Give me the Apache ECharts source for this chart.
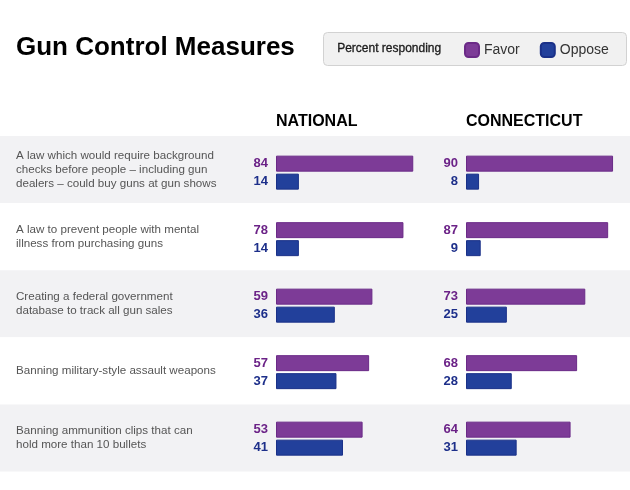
<!DOCTYPE html>
<html>
<head>
<meta charset="utf-8">
<script src="https://cdn.jsdelivr.net/npm/echarts@6/dist/echarts.min.js"></script>
<style>
 html, body { margin: 0; padding: 0; background: #fff; }
 #main { width: 630px; height: 490px; }
</style>
</head>
<body>
<div id="main"></div>
<script>
 var rows = [
     'A law which would require background\nchecks before people \u2013 including gun\ndealers \u2013 could buy guns at gun shows',
     'A law to prevent people with mental\nillness from purchasing guns',
     'Creating a federal government\ndatabase to track all gun sales',
     'Banning military-style assault weapons',
     'Banning ammunition clips that can\nhold more than 10 bullets'
 ];
 var natFavor = [84, 78, 59, 57, 53];
 var natOppose = [14, 14, 36, 37, 41];
 var ctFavor = [90, 87, 73, 68, 64];
 var ctOppose = [8, 9, 25, 28, 31];

 var FONT = '"Liberation Sans", Arial, sans-serif';
 var favorColor = '#7d3b97';
 var opposeColor = '#22409b';

 var chart = echarts.init(document.getElementById('main'));

 // one bar series, value label on the left of the bar
 function barSeries(name, data, idx, fill, border, labelColor) {
     return {
         name: name,
         type: 'bar',
         xAxisIndex: idx,
         yAxisIndex: idx,
         data: data,
         barWidth: 16,
         barGap: '12.5%',
         itemStyle: {
             color: fill,
             borderColor: border,
             borderWidth: 1
         },
         label: {
             show: true,
             position: 'left',
             distance: 8,
             fontFamily: FONT,
             fontSize: 13,
             fontWeight: 'bold',
             color: labelColor
         },
         emphasis: { disabled: true }
     };
 }

 var barY = function(idx) {
     return {
         type: 'category',
         gridIndex: idx,
         data: rows,
         inverse: true,
         show: false
     };
 };
 var barX = function(idx) {
     return { type: 'value', gridIndex: idx, min: 0, max: 100, show: false };
 };

 option = {
     animation: false,
     textStyle: { fontFamily: FONT },
     title: [{
         text: 'Gun Control Measures',
         left: 16,
         top: 35,
         padding: 0,
         textStyle: { fontFamily: FONT, fontSize: 26, fontWeight: 'bold', color: '#000' }
     }, {
         text: 'NATIONAL',
         left: 276,
         top: 114,
         padding: 0,
         textStyle: { fontFamily: FONT, fontSize: 16, fontWeight: 'bold', color: '#000' }
     }, {
         text: 'CONNECTICUT',
         left: 466,
         top: 114,
         padding: 0,
         textStyle: { fontFamily: FONT, fontSize: 16, fontWeight: 'bold', color: '#000' }
     }],
     graphic: [{
         type: 'rect',
         shape: { x: 323.5, y: 32.5, width: 303, height: 33, r: 4 },
         style: { fill: '#f1f1f1', stroke: '#d2d2d2', lineWidth: 1 },
         z: -1
     }, {
         type: 'text',
         left: 337,
         top: 43,
         style: {
             text: 'Percent responding', fontFamily: FONT, fontSize: 12, fill: '#1a1a1a',
             stroke: '#1a1a1a', lineWidth: 0.3
         }
     }],
     legend: {
         data: ['Favor', 'Oppose'],
         left: 464,
         top: 42,
         padding: 0,
         itemWidth: 14,
         itemHeight: 14,
         itemGap: 20,
         icon: 'roundRect',
         selectedMode: false,
         textStyle: { fontFamily: FONT, fontSize: 14, color: '#333' }
     },
     grid: [
         { left: 0, width: 630, top: 136, height: 335.5 },
         { left: 276, width: 163.4, top: 139.4, height: 332.5 },
         { left: 466, width: 163.4, top: 139.4, height: 332.5 }
     ],
     xAxis: [
         { type: 'value', gridIndex: 0, min: 0, max: 1, show: false },
         barX(1),
         barX(2)
     ],
     yAxis: [{
         type: 'category',
         gridIndex: 0,
         data: rows,
         inverse: true,
         axisLine: { show: false },
         axisTick: { show: false },
         splitArea: {
             show: true,
             areaStyle: { color: ['#f2f2f4', '#ffffff'] }
         },
         axisLabel: {
             inside: true,
             margin: 16,
             align: 'left',
             padding: [7, 0, 0, 0],
             fontFamily: FONT,
             fontSize: 11.6,
             lineHeight: 14,
             color: '#555'
         }
     }, barY(1), barY(2)],
     series: [
         barSeries('Favor', natFavor, 1, favorColor, '#6b2a87', '#6b2287'),
         barSeries('Oppose', natOppose, 1, opposeColor, '#1a3088', '#1d2f8a'),
         barSeries('Favor', ctFavor, 2, favorColor, '#6b2a87', '#6b2287'),
         barSeries('Oppose', ctOppose, 2, opposeColor, '#1a3088', '#1d2f8a')
     ]
 };
 chart.setOption(option);
</script>
</body>
</html>
